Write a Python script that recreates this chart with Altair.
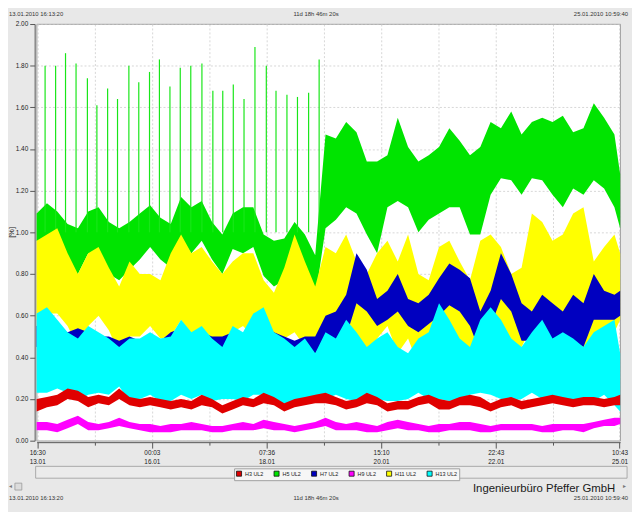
import altair as alt
import pandas as pd

# ---------------- data ----------------
START = "2010-01-13 16:13:20"
END = "2010-01-25 10:59:40"
STAMP_START = "13.01.2010 16:13:20"
STAMP_SPAN = "11d 18h 46m 20s"
STAMP_END = "25.01.2010 10:59:40"
COMPANY = "Ingenieurbüro Pfeffer GmbH"
Y_TITLE = "[%]"

# sample times: hours after START
HOURS = list(range(0, 285, 5)) + [282.77]

SERIES = ["H3 UL2", "H5 UL2", "H7 UL2", "H9 UL2", "H11 UL2", "H13 UL2"]
COLORS = ["#e00000", "#00e400", "#0000c0", "#ff00ff", "#ffff00", "#00ffff"]

# H5 (green) envelope
H5_HI = [1.09, 1.14, 1.10, 1.04, 1.02, 1.10, 1.12, 1.05, 1.02, 1.05, 1.09, 1.13, 1.07, 1.04, 1.17,
         1.12, 1.15, 1.05, 0.99, 1.09, 1.12, 1.12, 0.99, 0.96, 0.97, 1.05, 0.99, 0.89, 1.47,
         1.45, 1.53, 1.48, 1.34, 1.34, 1.37, 1.55, 1.41, 1.34, 1.37, 1.41, 1.50, 1.44, 1.37,
         1.41, 1.53, 1.50, 1.58, 1.47, 1.53, 1.55, 1.53, 1.56, 1.48, 1.50, 1.62, 1.55, 1.47, 1.28]
H5_LO = [0.96, 0.93, 0.90, 0.83, 0.80, 0.90, 0.87, 0.80, 0.77, 0.82, 0.87, 0.93, 0.87, 0.83, 0.96,
         0.90, 0.96, 0.87, 0.80, 0.92, 0.90, 0.93, 0.79, 0.74, 0.77, 0.87, 0.80, 0.68, 1.02,
         1.06, 1.12, 1.09, 0.99, 0.90, 1.12, 1.15, 1.12, 1.00, 1.06, 1.09, 1.12, 1.12, 0.99,
         0.99, 1.18, 1.26, 1.25, 1.18, 1.26, 1.25, 1.18, 1.12, 1.21, 1.18, 1.25, 1.21, 1.12, 1.02]
# H5 periodic spikes: hours after START, peak value
SPIKE_HOURS = [4.1, 9.2, 14.0, 19.1, 24.6, 29.2, 34.4, 39.2, 44.7, 49.5, 54.7, 59.5, 64.6, 69.6,
               74.7, 80.1, 85.4, 90.2, 95.3, 100.5, 105.8, 111.3, 116.0, 121.3, 126.4, 131.8, 136.9]
SPIKE_PEAKS = [1.80, 1.80, 1.86, 1.81, 1.74, 1.61, 1.69, 1.64, 1.80, 1.72, 1.77, 1.83, 1.70, 1.79,
               1.80, 1.81, 1.68, 1.68, 1.71, 1.64, 1.89, 1.80, 1.68, 1.66, 1.65, 1.67, 1.83]

# H11 (yellow)
H11_HI = [0.96, 0.99, 1.02, 0.90, 0.80, 0.90, 0.93, 0.83, 0.74, 0.86, 0.80, 0.80, 0.77, 0.90, 0.99,
          0.90, 0.93, 0.86, 0.80, 0.86, 0.90, 0.90, 0.77, 0.71, 0.83, 0.99, 0.86, 0.74, 0.93,
          0.90, 0.99, 0.86, 0.80, 0.90, 0.96, 0.86, 0.99, 0.80, 0.77, 0.93, 0.96, 0.86, 0.77,
          0.96, 0.99, 0.93, 0.80, 0.83, 1.09, 1.05, 0.96, 0.99, 1.09, 1.12, 0.86, 0.93, 0.99, 0.90]
H11_LO = [0.58, 0.61, 0.61, 0.55, 0.45, 0.55, 0.60, 0.53, 0.42, 0.50, 0.50, 0.55, 0.49, 0.50, 0.58,
          0.50, 0.53, 0.49, 0.42, 0.52, 0.55, 0.50, 0.45, 0.42, 0.49, 0.52, 0.45, 0.42, 0.49,
          0.49, 0.52, 0.45, 0.42, 0.49, 0.55, 0.42, 0.49, 0.36, 0.42, 0.49, 0.45, 0.45, 0.42,
          0.45, 0.52, 0.49, 0.42, 0.45, 0.55, 0.45, 0.39, 0.49, 0.42, 0.42, 0.39, 0.52, 0.52, 0.58]

# H7 (blue)
H7_HI = [0.55, 0.56, 0.54, 0.52, 0.54, 0.52, 0.50, 0.50, 0.48, 0.50, 0.48, 0.50, 0.48, 0.52, 0.54,
         0.50, 0.52, 0.50, 0.50, 0.52, 0.50, 0.54, 0.56, 0.52, 0.50, 0.48, 0.50, 0.50, 0.60,
         0.62, 0.70, 0.90, 0.82, 0.68, 0.72, 0.80, 0.68, 0.66, 0.70, 0.78, 0.85, 0.82, 0.78,
         0.62, 0.72, 0.90, 0.80, 0.66, 0.62, 0.70, 0.66, 0.62, 0.70, 0.66, 0.80, 0.72, 0.70, 0.72]
H7_LO = [0.45, 0.46, 0.44, 0.40, 0.36, 0.42, 0.42, 0.40, 0.34, 0.42, 0.40, 0.42, 0.38, 0.40, 0.44,
         0.42, 0.44, 0.40, 0.40, 0.42, 0.42, 0.44, 0.46, 0.42, 0.40, 0.40, 0.42, 0.42, 0.48,
         0.45, 0.50, 0.66, 0.62, 0.55, 0.58, 0.62, 0.55, 0.52, 0.56, 0.60, 0.65, 0.62, 0.55,
         0.42, 0.55, 0.68, 0.62, 0.48, 0.48, 0.52, 0.45, 0.44, 0.48, 0.45, 0.58, 0.58, 0.58, 0.60]

# H13 (cyan)
H13_HI = [0.61, 0.64, 0.58, 0.52, 0.49, 0.55, 0.52, 0.49, 0.45, 0.49, 0.49, 0.52, 0.49, 0.50, 0.58,
          0.52, 0.55, 0.49, 0.45, 0.55, 0.52, 0.61, 0.64, 0.52, 0.49, 0.45, 0.49, 0.42, 0.52,
          0.49, 0.58, 0.52, 0.45, 0.49, 0.52, 0.45, 0.42, 0.49, 0.52, 0.66, 0.58, 0.49, 0.45,
          0.58, 0.64, 0.58, 0.49, 0.45, 0.52, 0.58, 0.49, 0.52, 0.49, 0.45, 0.52, 0.55, 0.58, 0.42]
H13_LO = [0.23, 0.23, 0.25, 0.23, 0.19, 0.22, 0.23, 0.22, 0.26, 0.19, 0.20, 0.22, 0.19, 0.19, 0.22,
          0.20, 0.22, 0.19, 0.20, 0.20, 0.19, 0.22, 0.22, 0.19, 0.17, 0.19, 0.20, 0.19, 0.20,
          0.22, 0.20, 0.19, 0.19, 0.20, 0.19, 0.19, 0.20, 0.23, 0.20, 0.20, 0.19, 0.20, 0.22,
          0.23, 0.22, 0.20, 0.19, 0.20, 0.23, 0.20, 0.19, 0.20, 0.19, 0.20, 0.19, 0.22, 0.17, 0.14]

# H3 (red)
H3_HI = [0.20, 0.21, 0.22, 0.25, 0.24, 0.21, 0.22, 0.21, 0.25, 0.21, 0.20, 0.21, 0.20, 0.19, 0.20,
         0.19, 0.22, 0.20, 0.17, 0.19, 0.21, 0.20, 0.23, 0.21, 0.18, 0.20, 0.21, 0.22, 0.23,
         0.21, 0.19, 0.20, 0.23, 0.21, 0.18, 0.19, 0.19, 0.21, 0.22, 0.20, 0.19, 0.21, 0.22,
         0.21, 0.18, 0.20, 0.21, 0.19, 0.20, 0.21, 0.22, 0.21, 0.20, 0.21, 0.21, 0.20, 0.21, 0.22]
H3_LO = [0.14, 0.16, 0.17, 0.20, 0.19, 0.16, 0.18, 0.17, 0.20, 0.17, 0.16, 0.17, 0.16, 0.15, 0.16,
         0.15, 0.17, 0.16, 0.13, 0.15, 0.17, 0.16, 0.18, 0.17, 0.14, 0.16, 0.17, 0.18, 0.18,
         0.17, 0.15, 0.16, 0.18, 0.17, 0.14, 0.15, 0.15, 0.17, 0.18, 0.15, 0.15, 0.17, 0.17,
         0.16, 0.14, 0.16, 0.17, 0.15, 0.16, 0.17, 0.18, 0.17, 0.16, 0.17, 0.17, 0.16, 0.17, 0.17]

# H9 (magenta)
H9_HI = [0.09, 0.09, 0.08, 0.10, 0.12, 0.09, 0.08, 0.09, 0.11, 0.09, 0.08, 0.08, 0.07, 0.08, 0.08,
         0.09, 0.08, 0.07, 0.07, 0.08, 0.09, 0.08, 0.10, 0.09, 0.08, 0.07, 0.08, 0.09, 0.11,
         0.09, 0.08, 0.09, 0.08, 0.07, 0.09, 0.10, 0.09, 0.08, 0.07, 0.08, 0.08, 0.09, 0.09,
         0.08, 0.07, 0.08, 0.08, 0.08, 0.08, 0.07, 0.08, 0.08, 0.08, 0.08, 0.09, 0.10, 0.11, 0.11]
H9_LO = [0.05, 0.05, 0.04, 0.06, 0.08, 0.05, 0.05, 0.06, 0.07, 0.06, 0.05, 0.04, 0.04, 0.04, 0.05,
         0.05, 0.05, 0.04, 0.04, 0.05, 0.05, 0.05, 0.06, 0.05, 0.05, 0.04, 0.05, 0.06, 0.07,
         0.05, 0.05, 0.05, 0.04, 0.04, 0.05, 0.06, 0.05, 0.05, 0.04, 0.04, 0.05, 0.05, 0.05,
         0.04, 0.04, 0.05, 0.05, 0.05, 0.05, 0.04, 0.04, 0.05, 0.05, 0.04, 0.06, 0.07, 0.07, 0.08]

# ---------------- build tables ----------------
t0 = pd.Timestamp(START)
times = [t0 + pd.Timedelta(hours=h) for h in HOURS]

env = {
    "H3 UL2": (H3_LO, H3_HI),
    "H5 UL2": (H5_LO, H5_HI),
    "H7 UL2": (H7_LO, H7_HI),
    "H9 UL2": (H9_LO, H9_HI),
    "H11 UL2": (H11_LO, H11_HI),
    "H13 UL2": (H13_LO, H13_HI),
}
rows = []
for name, (lo, hi) in env.items():
    for t, a, b in zip(times, lo, hi):
        rows.append({"time": t, "lo": a, "hi": b, "series": name})
df = pd.DataFrame(rows)
spikes = pd.DataFrame({"time": [t0 + pd.Timedelta(hours=h) for h in SPIKE_HOURS],
                       "peak": SPIKE_PEAKS})


def dt(ts):
    ts = pd.Timestamp(ts)
    return alt.DateTime(year=ts.year, month=ts.month, date=ts.day,
                        hours=ts.hour, minutes=ts.minute, seconds=ts.second)


# x ticks: every 13h53m20s from 16:30 13.01, labels every 4th, plus end tick
tick0 = pd.Timestamp("2010-01-13 16:30:00")
x_ticks = [dt(tick0 + pd.Timedelta(seconds=50000 * n)) for n in range(20)]
x_ticks.append(dt("2010-01-25 10:43:00"))
y_ticks = [round(i * 0.05, 2) for i in range(41)]

FONT = "Liberation Sans"
major_x = ("(abs((+datum.value - datetime(2010,0,13,16,30,0)) % 200000000) < 1000)"
           " || (+datum.value > datetime(2010,0,25,10,0,0))")
major_y = "abs(datum.value * 5 - round(datum.value * 5)) < 0.001"

x_axis = alt.Axis(
    values=x_ticks, title=None, grid=True, gridColor="#c4c4c4", gridDash=[2, 2],
    gridWidth=0.7, domainColor="#555", tickColor="#555", offset=1.5,
    tickSize={"condition": {"test": major_x, "value": 6}, "value": 3},
    labelExpr=f"({major_x}) ? [timeFormat(datum.value, '%H:%M'), timeFormat(datum.value, '%d.%m')] : ''",
    labelFont=FONT, labelFontSize=6.5, labelColor="#222", labelPadding=2,
    labelLineHeight=9, labelOverlap=False, labelFlush=False,
)
y_axis = alt.Axis(
    values=y_ticks, title=None, grid=True, gridColor="#c4c4c4", gridDash=[2, 2],
    gridWidth=0.7,
    gridOpacity={"condition": {"test": major_y, "value": 1}, "value": 0},
    domainColor="#555", tickColor="#555", offset=2,
    tickSize={"condition": {"test": major_y, "value": 5}, "value": 2.5},
    labelExpr=f"({major_y}) ? format(datum.value, '.2f') : ''",
    labelFont=FONT, labelFontSize=6.5, labelColor="#222", labelPadding=2,
    labelOverlap=False, labelFlush=False,
)

X = alt.X("time:T", scale=alt.Scale(domain=[dt(START), dt(END)], nice=False), axis=x_axis)
Y = alt.Y("hi:Q", scale=alt.Scale(domain=[0, 2], nice=False, zero=False), axis=y_axis)
color = alt.Color(
    "series:N",
    scale=alt.Scale(domain=SERIES, range=COLORS),
    legend=alt.Legend(
        orient="none", legendX=200, legendY=450, direction="horizontal", title=None,
        symbolType="square", symbolSize=26, symbolStrokeColor="#111", symbolStrokeWidth=0.8,
        symbolOpacity=1, labelFont=FONT, labelFontSize=5.5, labelColor="#222",
        labelOffset=3, columnPadding=8, fillColor="#f6f6f6", strokeColor="#a0a0a0",
        padding=2,
    ),
)


def band(name):
    return (alt.Chart(df).transform_filter(alt.datum.series == name)
            .mark_area(interpolate="linear", opacity=1)
            .encode(x=X, y=Y, y2="lo:Q", color=color))


spike_layer = alt.Chart(spikes).mark_rule(color="#18e618", strokeWidth=1.2).encode(
    x="time:T", y="peak:Q", y2=alt.datum(1.0))

one = pd.DataFrame({"a": [0]})


def label(text, x, y, size=6, align="left", font=FONT, color="#333", angle=0):
    return alt.Chart(pd.DataFrame({"t": [text]})).mark_text(
        align=align, baseline="middle", font=font, fontSize=size, color=color, angle=angle
    ).encode(x=alt.value(x), y=alt.value(y), text="t:N")


legend_box = alt.Chart(one).mark_rect(fill="#ebebeb", stroke="#9a9a9a", strokeWidth=0.8).encode(
    x=alt.value(-1), x2=alt.value(598), y=alt.value(448), y2=alt.value(460))
thumb = alt.Chart(one).mark_rect(fill="#dcdcdc", stroke="#9a9a9a", strokeWidth=0.8).encode(
    x=alt.value(-22), x2=alt.value(-15), y=alt.value(465), y2=alt.value(472))

chart = alt.layer(
    band("H5 UL2"),
    spike_layer,
    band("H11 UL2"),
    band("H7 UL2"),
    band("H13 UL2"),
    band("H3 UL2"),
    band("H9 UL2"),
    legend_box,
    thumb,
    label(Y_TITLE, -25, 211, size=7.5, align="center", color="#222", angle=270),
    label("◂", -28, 468, size=6, font="DejaVu Sans", color="#777"),
    label("▸", 594, 468, size=6, font="DejaVu Sans", color="#777"),
    label(STAMP_START, -28, -10),
    label(STAMP_SPAN, 283, -10, align="center"),
    label(STAMP_END, 599, -10, align="right"),
    label(STAMP_START, -28, 480),
    label(STAMP_SPAN, 283, 480, align="center"),
    label(STAMP_END, 599, 480, align="right"),
    label(COMPANY, 586, 471, size=11.5, align="right", color="#1a1a1a"),
).properties(
    width=591, height=422,
    padding={"left": 29, "top": 13, "right": 12, "bottom": 69},
    autosize=alt.AutoSizeParams(type="none"),
    background="#e8e8e8",
).configure_view(fill="white", stroke="#8a8a8a", strokeWidth=0.8)

chart.save("out.html", embed_options={"renderer": "svg", "actions": False})
